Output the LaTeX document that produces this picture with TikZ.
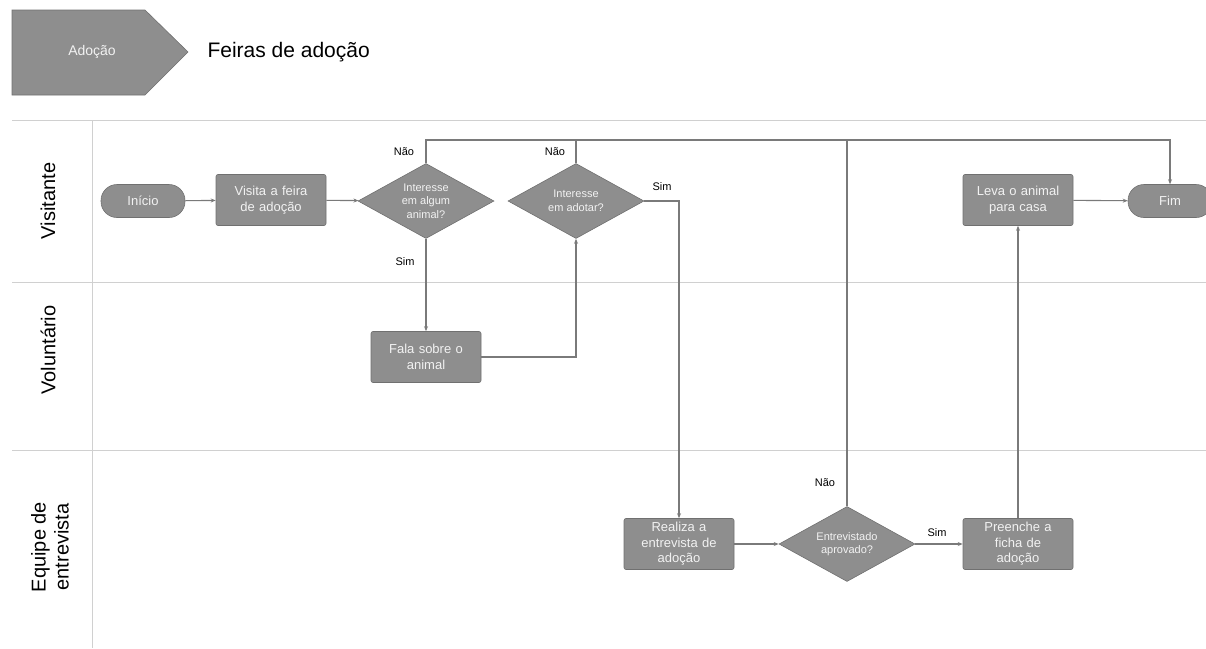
\documentclass[tikz,border=0pt]{standalone}
\usepackage{fontspec}
\setmainfont{Liberation Sans}
\usetikzlibrary{shapes.geometric,arrows.meta}
\definecolor{boxfill}{HTML}{8E8E8E}
\definecolor{boxdraw}{HTML}{707070}
\definecolor{linec}{HTML}{7A7A7A}
\definecolor{lanec}{HTML}{D0D0D0}
\definecolor{boxtext}{HTML}{F2F2F2}
\tikzset{
  procbox/.style={rectangle, rounded corners=2pt, fill=boxfill, draw=boxdraw, line width=0.6pt,
    minimum width=110pt, minimum height=51pt, text width=106pt, align=center,
    text=boxtext, font=\fontsize{13}{15.5}\selectfont, inner sep=2pt},
  termbox/.style={rectangle, rounded corners=16pt, fill=boxfill, draw=boxdraw, line width=0.6pt,
    minimum width=84pt, minimum height=33pt, text=boxtext, font=\fontsize{13}{15}\selectfont},
  decbox/.style={diamond, fill=boxfill, draw=boxdraw, line width=0.6pt,
    minimum width=136pt, minimum height=75pt, inner sep=-12pt, align=center,
    text=boxtext, font=\fontsize{11}{13.5}\selectfont},
  conn/.style={draw=linec, line width=1.1pt},
  arr/.style={conn, -{Stealth[length=5pt,width=4pt]}},
  lbl/.style={font=\fontsize{11}{12}\selectfont, text=black},
  lane/.style={draw=lanec, line width=1pt},
  lanelbl/.style={rotate=90, align=center, font=\fontsize{20}{23}\selectfont, text=black}
}
\begin{document}
\begin{tikzpicture}[x=1pt,y=-1pt]
\useasboundingbox (0,0) rectangle (1206,648);
% header
\path[fill=boxfill, draw=boxdraw, line width=0.6pt] (12,10) -- (145,10) -- (188,52) -- (145,95) -- (12,95) -- cycle;
\node[text=boxtext, font=\fontsize{14}{16}\selectfont] (hdr) at (92,52) {Adoção};
\node[anchor=west, font=\fontsize{21}{24}\selectfont] (title) at (204,52) {Feiras de adoção};
% lanes
\draw[lane] (12,120) -- (1206,120);
\draw[lane] (12,282) -- (1206,282);
\draw[lane] (12,450) -- (1206,450);
\draw[lane] (92,120) -- (92,648);
\node[lanelbl] (l1) at (48,201) {Visitante};
\node[lanelbl] (l2) at (48,350) {Voluntário};
\node[lanelbl] (l3) at (50,547) {Equipe de\\entrevista};
% nodes
\node[termbox] (inicio) at (143,201) {Início};
\node[procbox] (visita) at (271,200) {Visita a feira\\de adoção};
\node[decbox] (d1) at (426,201) {Interesse\\em algum\\animal?};
\node[decbox] (d2) at (576,201) {Interesse\\em adotar?};
\node[procbox] (fala) at (426,357) {Fala sobre o\\animal};
\node[procbox] (leva) at (1018,200) {Leva o animal\\para casa};
\node[termbox] (fim) at (1170,201) {Fim};
\node[procbox] (realiza) at (679,544) {Realiza a\\entrevista de\\adoção};
\node[decbox] (d3) at (847,544) {Entrevistado\\aprovado?};
\node[procbox] (preenche) at (1018,544) {Preenche a\\ficha de\\adoção};
\coordinate (top) at (0,140);
% connectors
\draw[arr] (inicio) -- (visita);
\draw[arr] (visita) -- (d1);
\draw[arr] (d1.north) -- (d1.north |- top) -| (fim.north);
\draw[conn] (d2.north) -- (d2.north |- top);
\draw[conn] (d3.north) -- (d3.north |- top);
\draw[arr] (d1.south) -- (fala.north);
\draw[arr] (fala.east) -| (d2.south);
\draw[arr] (d2.east) -| (realiza.north);
\draw[arr] (realiza) -- (d3);
\draw[arr] (d3) -- (preenche);
\draw[arr] (preenche.north) -- (leva.south);
\draw[arr] (leva) -- (fim);
% labels
\node[lbl] (n1) at (404,152) {Não};
\node[lbl] (n2) at (555,152) {Não};
\node[lbl] (s1) at (405,262) {Sim};
\node[lbl] (s2) at (662,187) {Sim};
\node[lbl] (n3) at (825,483) {Não};
\node[lbl] (s3) at (937,533) {Sim};
\end{tikzpicture}
\end{document}
